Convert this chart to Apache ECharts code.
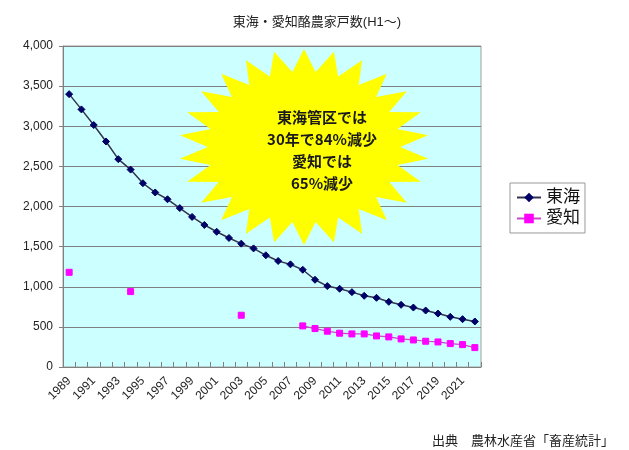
<!DOCTYPE html>
<html><head><meta charset="utf-8">
<script src="https://cdn.jsdelivr.net/npm/echarts@6/dist/echarts.min.js"></script>
<style>html,body{margin:0;padding:0;background:#fff}#c{width:629px;height:450px}</style>
</head><body><div id="c"></div>
<script>
const years = ['1989','1990','1991','1992','1993','1994','1995','1996','1997','1998','1999','2000','2001','2002','2003','2004','2005','2006','2007','2008','2009','2010','2011','2012','2013','2014','2015','2016','2017','2018','2019','2020','2021','2022'];
const tokai = [3400,3210,3015,2810,2590,2460,2290,2175,2090,1980,1870,1770,1685,1608,1537,1478,1392,1321,1279,1212,1087,1008,975,933,887,862,812,775,741,704,666,625,596,567];
const aichi = [1180,null,null,null,null,940,null,null,null,null,null,null,null,null,645,null,null,null,null,512,479,446,421,412,412,387,375,350,337,321,312,292,279,242];
const seriesNames = ['東海','愛知'];
const titleText = '東海・愛知酪農家戸数(H1～)';
const noteLines = ['東海管区では','30年で84%減少','愛知では','65%減少'];
const sourceText = '出典　農林水産省「畜産統計」';

const FONT = '"Liberation Sans", "Noto Sans CJK JP", sans-serif';

// starburst decoration (24-point star)
function star(cx, cy, rx, ry, n, ratio) {
  const pts = [];
  for (let i = 0; i < n * 2; i++) {
    const a = -Math.PI / 2 + i * Math.PI / n;
    const r = (i % 2 === 0) ? 1 : ratio;
    pts.push([cx + rx * r * Math.cos(a), cy + ry * r * Math.sin(a)]);
  }
  return pts;
}

const chart = echarts.init(document.getElementById('c'), null, {renderer: 'canvas'});
chart.setOption({
  animation: false,
  backgroundColor: '#fff',
  textStyle: {fontFamily: FONT},
  title: {
    text: titleText, left: 312, top: 11, textAlign: 'center',
    textStyle: {fontSize: 13, fontWeight: 'normal', color: '#222', fontFamily: FONT}
  },
  grid: {
    left: 63, right: 148, top: 46, bottom: 83,
    show: true, backgroundColor: '#ccffff', borderColor: '#a0a0a0', borderWidth: 1
  },
  legend: {
    orient: 'vertical', left: 510, top: 183,
    padding: [6, 5, 6, 6], itemGap: 4,
    itemWidth: 24, itemHeight: 12,
    backgroundColor: '#fff', borderColor: '#999', borderWidth: 1,
    textStyle: {fontSize: 17, color: '#111', fontFamily: FONT},
    data: seriesNames
  },
  xAxis: {
    type: 'category', data: years, boundaryGap: true,
    axisLine: {lineStyle: {color: '#808080', width: 1}},
    axisTick: {show: true, inside: true, interval: 0, length: 5, lineStyle: {color: '#808080'}},
    axisLabel: {interval: 1, rotate: 45, fontSize: 12, color: '#222', margin: 12, fontFamily: FONT},
    splitLine: {show: false}
  },
  yAxis: {
    type: 'value', min: 0, max: 4000, interval: 500,
    axisLine: {show: true, lineStyle: {color: '#808080'}},
    axisTick: {show: true, length: 4, lineStyle: {color: '#808080'}},
    axisLabel: {fontSize: 12, color: '#222', margin: 10, fontFamily: FONT,
      formatter: v => v.toLocaleString('en-US')},
    splitLine: {show: true, lineStyle: {color: '#808080', width: 1}}
  },
  graphic: [
    {type: 'polygon', z: 1, shape: {points: star(304, 147, 125, 98, 26, 0.77)}, style: {fill: '#ffff00'}},
    {type: 'text', z: 3, x: 322, y: 150,
     style: {text: noteLines.join('\n'), fill: '#1a1a1a', font: 'bold 15px "Noto Sans CJK JP", sans-serif',
       align: 'center', verticalAlign: 'middle', lineHeight: 22}},
    {type: 'text', z: 3, x: 432, y: 434,
     style: {text: sourceText, fill: '#222', font: '13px "Noto Sans CJK JP", sans-serif'}}
  ],
  series: [
    {name: seriesNames[0], type: 'line', data: tokai, smooth: false,
     symbol: 'diamond', symbolSize: 7, showAllSymbol: true,
     lineStyle: {color: '#333350', width: 1.5},
     itemStyle: {color: '#000066', borderColor: '#000066'}, z: 3},
    {name: seriesNames[1], type: 'line', data: aichi, connectNulls: false,
     symbol: 'rect', symbolSize: 6, showAllSymbol: true,
     lineStyle: {color: '#cc44cc', width: 1.2},
     itemStyle: {color: '#ff00ff', borderColor: '#ff00ff'}, z: 3}
  ]
});
</script>
</body></html>
